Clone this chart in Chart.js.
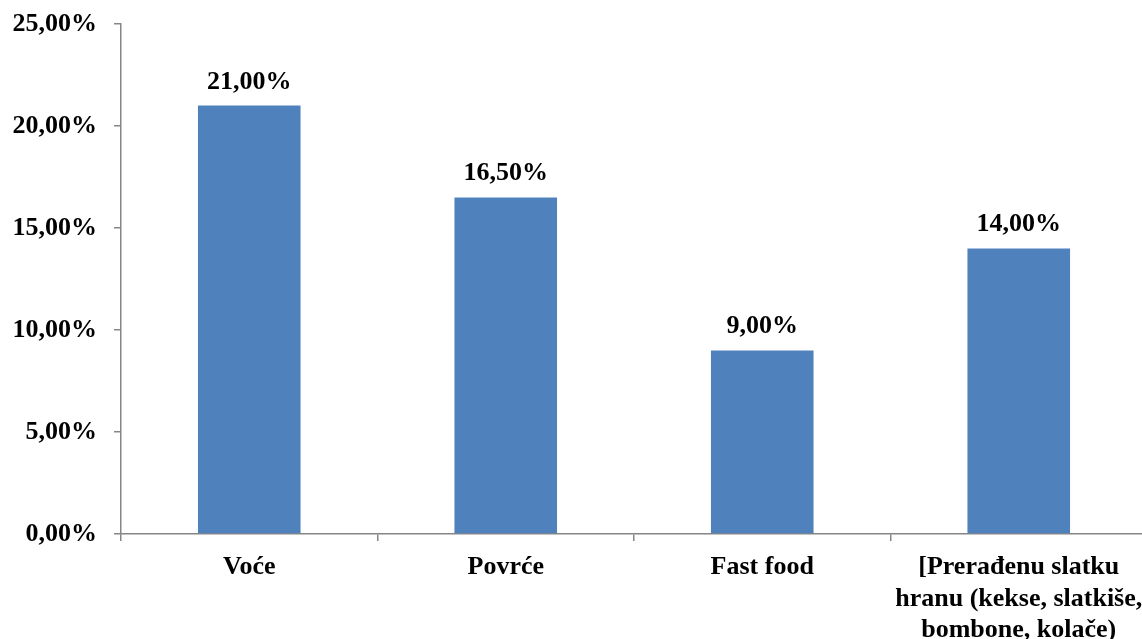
<!DOCTYPE html>
<html>
<head>
<meta charset="utf-8">
<script src="https://cdn.jsdelivr.net/npm/chart.js@4/dist/chart.umd.min.js"></script>
<style>
  html, body { margin: 0; padding: 0; background: #fff; overflow: hidden; }
  #wrap { width: 1142px; height: 639px; overflow: hidden; }
</style>
</head>
<body>
<div id="wrap"><canvas id="graf" width="1147" height="639"></canvas></div>
<script>
var kategorije = ["Voće", "Povrće", "Fast food", ["[Prerađenu slatku", "hranu (kekse, slatkiše,", "bombone, kolače)"]];
var procenti = [21.0, 16.5, 9.0, 14.0];
var yMax = 25;
var yKorak = 5;

var slova = { family: "'Liberation Serif', 'Times New Roman', serif", size: 26, weight: "bold", lineHeight: 1.2 };

function formatProcenat(v) {
  return v.toFixed(2).replace(".", ",") + "%";
}

// labels above each bar
var vrijednostiPlugin = {
  id: "vrijednosti",
  afterDatasetsDraw: function(chart) {
    var ctx = chart.ctx;
    var meta = chart.getDatasetMeta(0);
    ctx.save();
    ctx.font = "bold 26px 'Liberation Serif', 'Times New Roman', serif";
    ctx.fillStyle = "#000";
    ctx.textAlign = "center";
    ctx.textBaseline = "alphabetic";
    meta.data.forEach(function(bar, i) {
      ctx.fillText(formatProcenat(procenti[i]), bar.x, bar.y - 17);
    });
    ctx.restore();
  }
};

new Chart(document.getElementById("graf"), {
  type: "bar",
  data: {
    labels: kategorije,
    datasets: [{
      data: procenti,
      backgroundColor: "#4F81BD",
      borderWidth: 0,
      barPercentage: 0.4,
      categoryPercentage: 1.0
    }]
  },
  options: {
    responsive: false,
    animation: false,
    layout: { padding: { top: 24, left: 0, right: 0, bottom: 0 } },
    plugins: {
      legend: { display: false },
      tooltip: { enabled: false }
    },
    scales: {
      x: {
        afterFit: function(s) {
          s.height = 105;
          s.paddingLeft = 0;
          s.paddingRight = 0;
        },
        grid: {
          offset: true,
          drawOnChartArea: false,
          drawTicks: true,
          tickLength: 7,
          color: "#868686",
          lineWidth: 1.5
        },
        border: { color: "#868686", width: 1.5 },
        ticks: {
          color: "#000",
          font: slova,
          padding: 11,
          maxRotation: 0,
          autoSkip: false
        }
      },
      y: {
        min: 0,
        max: yMax,
        afterFit: function(s) {
          s.width = 121;
          s.paddingTop = 0;
          s.paddingBottom = 0;
        },
        grid: {
          drawOnChartArea: false,
          drawTicks: true,
          tickLength: 7,
          color: "#868686",
          lineWidth: 1.5
        },
        border: { color: "#868686", width: 1.5 },
        ticks: {
          stepSize: yKorak,
          color: "#000",
          font: slova,
          padding: 17,
          callback: function(v) { return formatProcenat(v); }
        }
      }
    }
  },
  plugins: [vrijednostiPlugin]
});
</script>
</body>
</html>
